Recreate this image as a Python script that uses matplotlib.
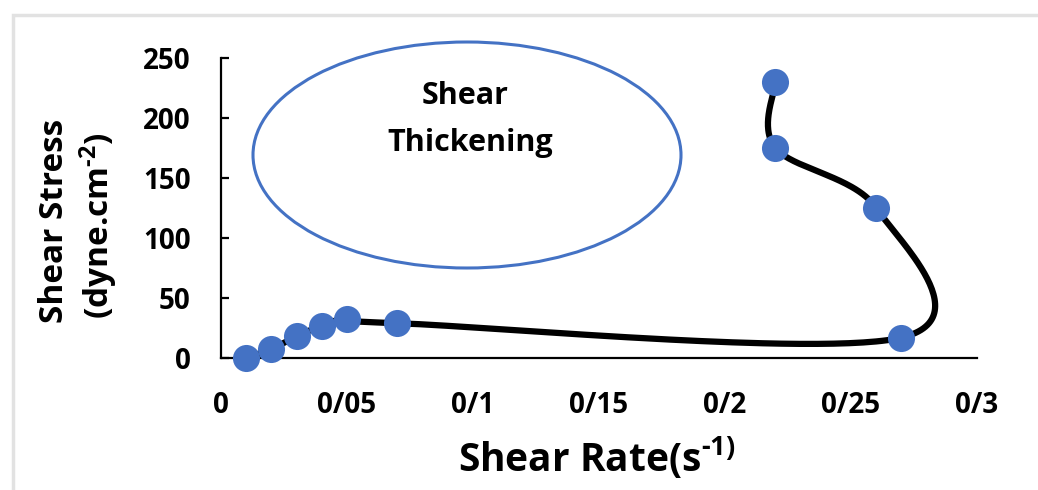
import numpy as np
import matplotlib.pyplot as plt
from matplotlib.patches import Ellipse, Rectangle

# shear rate (s^-1) vs shear stress (dyne.cm^-2), in measurement order
shear_rate = [0.01, 0.02, 0.03, 0.04, 0.05, 0.07, 0.27, 0.26, 0.22, 0.22]
shear_stress = [0, 7.5, 18, 27, 32.5, 29, 17, 125, 175, 230]

x_ticks = [0, 0.05, 0.1, 0.15, 0.2, 0.25, 0.3]
x_tick_labels = ["0", "0/05", "0/1", "0/15", "0/2", "0/25", "0/3"]
y_ticks = [0, 50, 100, 150, 200, 250]

plt.rcParams['font.family'] = ['Open Sans', 'DejaVu Sans']
plt.rcParams['mathtext.fontset'] = 'custom'
plt.rcParams['mathtext.rm'] = 'Open Sans:bold'
plt.rcParams['mathtext.bf'] = 'Open Sans:bold'
plt.rcParams['mathtext.default'] = 'bf'

blue = '#4472C4'
W, H = 1038, 490


def smooth_curve(ax, xs, ys, steps=60):
    # Catmull-Rom (Bezier form) through the points, done in screen space
    pts = ax.transData.transform(np.column_stack([xs, ys]))
    n = len(pts)
    t = np.linspace(0, 1, steps)[:, None]
    out = []
    for i in range(n - 1):
        p0 = pts[max(i - 1, 0)]
        p1 = pts[i]
        p2 = pts[i + 1]
        p3 = pts[min(i + 2, n - 1)]
        c1 = p1 + (p2 - p0) / 6
        c2 = p2 - (p3 - p1) / 6
        seg = (1-t)**3*p1 + 3*(1-t)**2*t*c1 + 3*(1-t)*t**2*c2 + t**3*p2
        out.append(seg if i == 0 else seg[1:])
    return ax.transData.inverted().transform(np.vstack(out))


fig = plt.figure(figsize=(W/100, H/100), dpi=100)
ax = fig.add_axes([221/W, 1-358/H, 756/W, 300/H])
ax.set_xlim(0, 0.3)
ax.set_ylim(0, 250)

curve = smooth_curve(ax, shear_rate, shear_stress)
ax.plot(curve[:, 0], curve[:, 1], color='black', lw=4.5, solid_capstyle='round', zorder=2)
ax.plot(shear_rate, shear_stress, 'o', color=blue, ms=19.5, mec='none', zorder=3, clip_on=False)

for s in ['top', 'right']:
    ax.spines[s].set_visible(False)
ax.spines['left'].set_linewidth(1.6)
ax.spines['bottom'].set_linewidth(1.6)
ax.spines['bottom'].set_bounds(0, 0.3)

ax.set_xticks(x_ticks)
ax.set_xticklabels(x_tick_labels)
ax.set_yticks(y_ticks)
ax.tick_params(axis='x', length=0, pad=24, labelsize=20)
ax.tick_params(axis='y', direction='in', length=6, width=1.6, pad=22, labelsize=20)
for lab in ax.get_xticklabels() + ax.get_yticklabels():
    lab.set_fontweight('bold')

# axis titles
fig.text(597/W, 1-457/H, r'Shear Rate(s$^{\text{-1)}}$', ha='center', va='center',
         fontsize=28, fontweight='bold')
fig.text(55/W, 1-221/H, 'Shear Stress', ha='center', va='center', rotation=90,
         fontsize=24, fontweight='bold')
fig.text(99/W, 1-226/H, r'(dyne.cm$^{\text{-2}}$)', ha='center', va='center', rotation=90,
         fontsize=24, fontweight='bold')

# annotation
fig.patches.append(Ellipse((467/W, 1-155/H), 428/W, 226/H, transform=fig.transFigure,
                           fill=False, ec=blue, lw=2.2))
fig.text(465/W, 1-96/H, 'Shear', ha='center', va='center', fontsize=22, fontweight='bold')
fig.text(470/W, 1-143/H, 'Thickening', ha='center', va='center', fontsize=22, fontweight='bold')

# light frame around the chart area
fig.patches.append(Rectangle((13/W, -0.1), 1.2, 1.1 - 15/H, transform=fig.transFigure,
                             fill=False, ec='#e2e2e2', lw=2.5))

fig.savefig('out.png', dpi=100)
